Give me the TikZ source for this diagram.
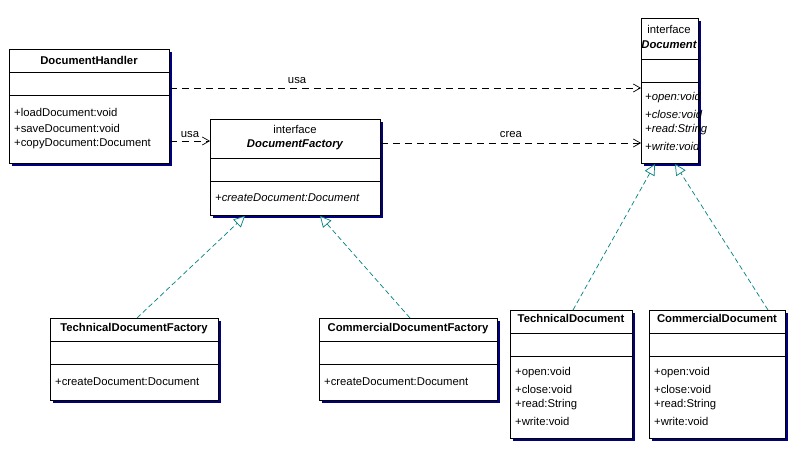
\documentclass[tikz,border=0pt]{standalone}
\usepackage{fontspec}
\setmainfont{Liberation Sans}
\usetikzlibrary{arrows.meta,calc}
\definecolor{shadow}{RGB}{0,0,128}
\definecolor{teal2}{RGB}{0,128,128}
\newcommand{\fs}{\fontsize{11.3}{13}\selectfont}
\tikzset{
  cls/.style={draw=black,fill=white,line width=0.9pt,inner sep=0pt,anchor=north west},
  txt/.style={inner sep=0pt,font=\fs},
  ttl/.style={txt,font=\fs\bfseries},
  itl/.style={txt,font=\fs\itshape,anchor=west},
  uses/.style={draw=black,dash pattern=on 7pt off 5pt,line width=0.7pt,-{Straight Barb[length=7pt,width=8pt]}},
  realize/.style={draw=teal2,dash pattern=on 5pt off 3pt,line width=0.7pt,-{Triangle[open,length=11pt,width=11pt,fill=white]}},
  lbl/.style={txt}
}
\newcommand{\umlbox}[7]{%
  \fill[shadow] (#2+3,#3+3) rectangle ++(#4,#5);
  \node[cls,minimum width=#4pt,minimum height=#5pt] (#1) at (#2,#3) {};
  \draw[line width=0.9pt] (#2,#6) -- ++(#4,0) (#2,#7) -- ++(#4,0);
}
\begin{document}
\begin{tikzpicture}[x=1pt,y=-1pt]
\useasboundingbox (0,0) rectangle (803,453);
\fill[white] (0,0) rectangle (803,453);
% boxes
\umlbox{dh}{9}{49}{160}{114}{72}{95}
\umlbox{df}{210}{119}{170}{96}{158}{181}
\umlbox{doc}{641}{18}{57}{145}{59}{82}
\umlbox{tdf}{50}{318}{168}{82}{341}{364}
\umlbox{cdf}{319}{318}{178}{82}{341}{364}
\umlbox{td}{510}{310}{122}{128}{333}{356}
\umlbox{cd}{649}{310}{136}{128}{333}{356}
% texts
\node[ttl] (t1) at (89,60) {DocumentHandler};
\node[txt,anchor=west] (m1) at (14,112) {+loadDocument:void};
\node[txt,anchor=west] (m2) at (14,128) {+saveDocument:void};
\node[txt,anchor=west] (m3) at (14,144) {+copyDocument:Document};
\node[txt] (t2a) at (295,129) {interface};
\node[txt,font=\fs\bfseries\itshape] (t2b) at (295,145) {DocumentFactory};
\node[itl] (m4) at (215,198) {+createDocument:Document};
\node[txt] (t3a) at (669,29) {interface};
\node[txt,font=\fs\bfseries\itshape] (t3b) at (669,45) {Document};
\node[itl] (m5) at (645,98) {+open:void};
\node[itl] (m6) at (645,114) {+close:void};
\node[itl] (m7) at (645,130) {+read:String};
\node[itl] (m8) at (645,146) {+write:void};
\node[ttl] (t4) at (134,329) {TechnicalDocumentFactory};
\node[txt,anchor=west] (m9) at (55,382) {+createDocument:Document};
\node[ttl] (t5) at (408,329) {CommercialDocumentFactory};
\node[txt,anchor=west] (m10) at (324,382) {+createDocument:Document};
\node[ttl] (t6) at (571,318) {TechnicalDocument};
\node[txt,anchor=west] (a1) at (515,373) {+open:void};
\node[txt,anchor=west] (a2) at (515,389) {+close:void};
\node[txt,anchor=west] (a3) at (515,405) {+read:String};
\node[txt,anchor=west] (a4) at (515,421) {+write:void};
\node[ttl] (t7) at (717,318) {CommercialDocument};
\node[txt,anchor=west] (b1) at (654,373) {+open:void};
\node[txt,anchor=west] (b2) at (654,389) {+close:void};
\node[txt,anchor=west] (b3) at (654,405) {+read:String};
\node[txt,anchor=west] (b4) at (654,421) {+write:void};
% dependencies
\draw[uses] (dh.north east |- 0,88) -- (doc.north west |- 0,88) node[lbl,pos=0.27,above=4pt] {usa};
\draw[uses] (dh.north east |- 0,141) -- (df.north west |- 0,141) node[lbl,midway,above=3pt] {usa};
\draw[uses] (df.north east |- 0,143) -- (doc.north west |- 0,143) node[lbl,midway,above=5pt] {crea};
% realizations
\draw[realize] ($(tdf.north west)+(87,0)$) -- ($(df.south west)+(35,0)$);
\draw[realize] ($(cdf.north west)+(91,0)$) -- ($(df.south west)+(110,0)$);
\draw[realize] ($(td.north west)+(63,0)$) -- ($(doc.south west)+(14,0)$);
\draw[realize] ($(cd.north west)+(119,0)$) -- ($(doc.south west)+(34,0)$);
\end{tikzpicture}
\end{document}
